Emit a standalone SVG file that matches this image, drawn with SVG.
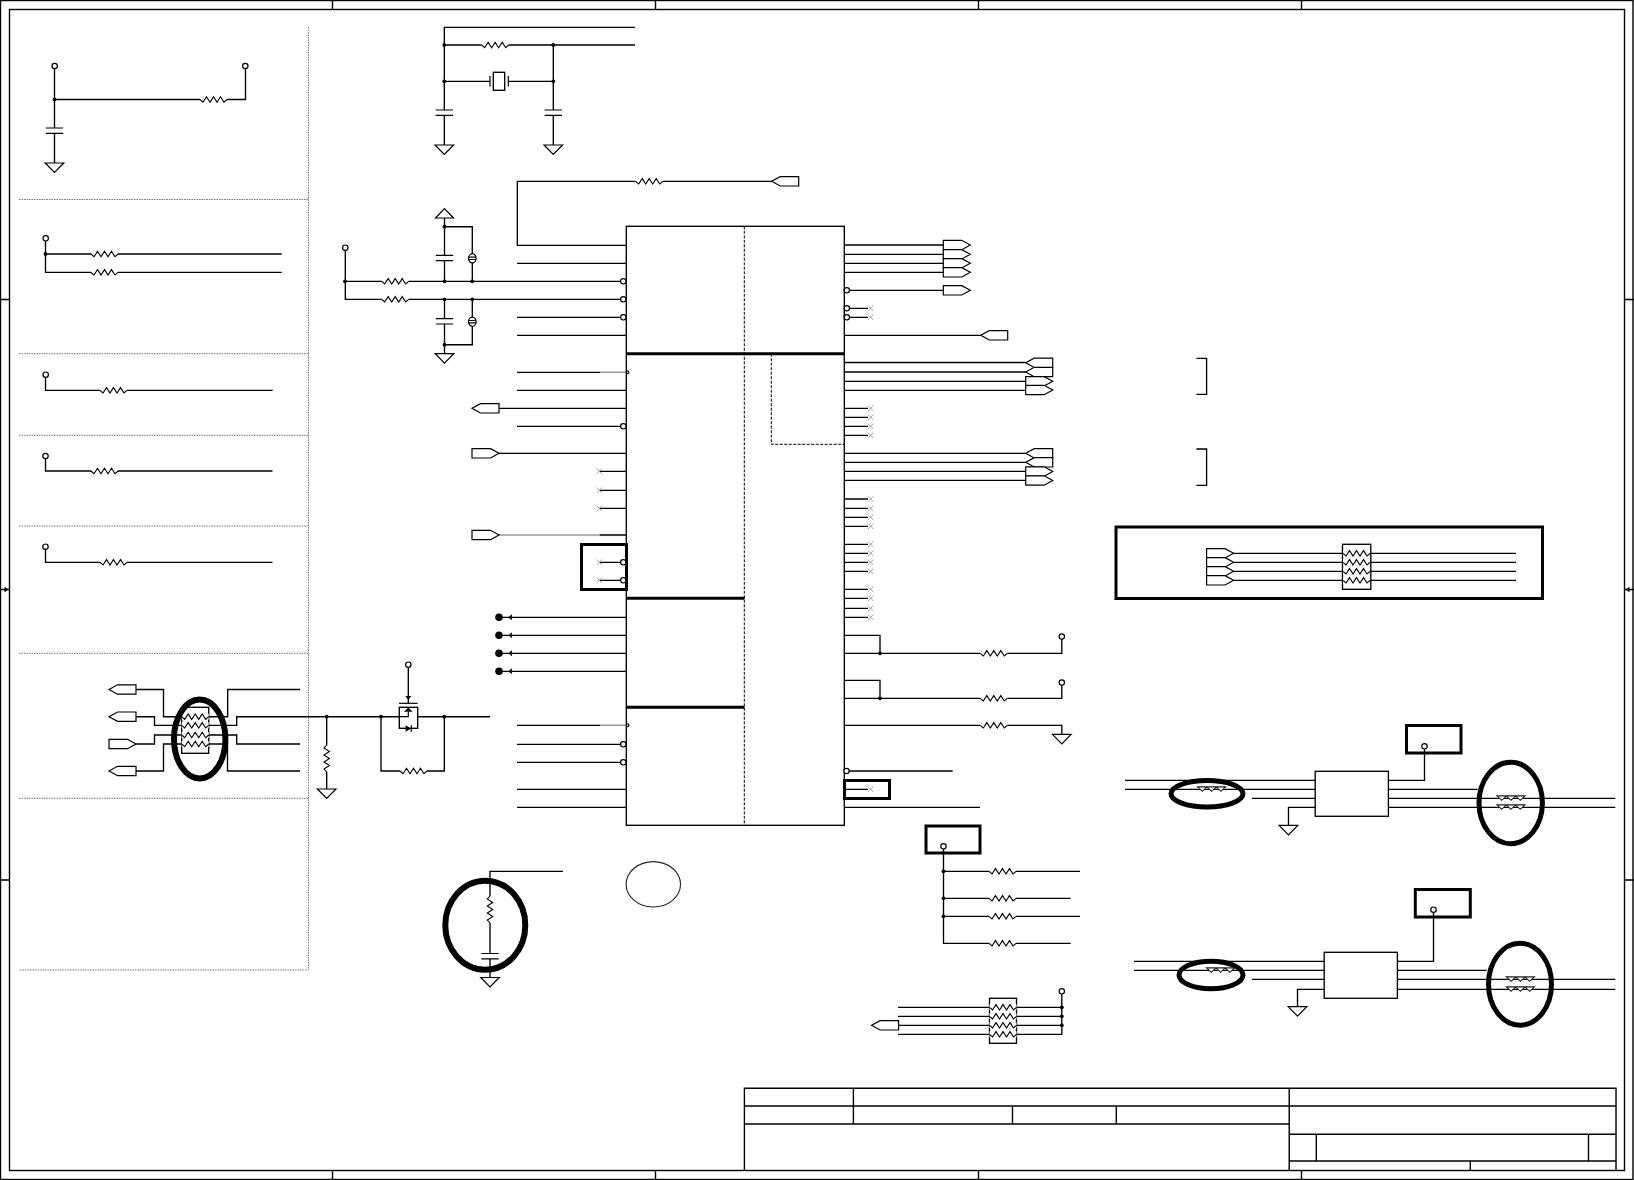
<svg xmlns="http://www.w3.org/2000/svg" width="1634" height="1180" viewBox="0 0 1634 1180">
<style>
.w{fill:none;stroke:#000;stroke-width:1.2}
.b{fill:#fff;stroke:#000;stroke-width:1.2}
.z{fill:none;stroke:#000;stroke-width:1.1}
#connectors .w,#brackets .w{stroke-width:1.35}
rect.b{stroke-width:1.35}
.t{fill:none;stroke:#000;stroke-width:3}
.e{fill:none;stroke:#000;stroke-width:5}
.e6{fill:none;stroke:#000;stroke-width:6}
.d{fill:none;stroke:#777;stroke-width:1;stroke-dasharray:1.5 1}
.k{fill:none;stroke:#000;stroke-width:1;stroke-dasharray:3 1.5}
.g{fill:none;stroke:#999;stroke-width:1.5}
.n{fill:none;stroke:#999;stroke-width:.9}
.f{fill:#000;stroke:none}
.tb{fill:none;stroke:#000;stroke-width:1.4}
</style>
<defs>
<g id="res"><rect x="0" y="-3" width="27" height="6" fill="#fff"/><path class="z" d="M0 0l3 2.7 3.5-5.4 3.5 5.4 3.5-5.4 3.5 5.4 3.5-5.4 3.5 5.4 3-2.7"/></g>
<g id="resf"><path fill="#fff" stroke="#222" stroke-width="1.1" d="M0-2.4H28L23.3 2 18.6-2.4 14 2 9.3-2.4 4.7 2Z"/></g>
<g id="gnd"><path class="b" d="M-9.3 0H9.3L0 9.5Z"/></g>
<g id="cap"><path class="w" d="M-8.7 0H8.7M-8.7 5.3H8.7"/></g>
<g id="pl"><path class="b" d="M0 0 8.5-4.7H27V4.7H8.5Z"/></g>
<g id="pr"><path class="b" d="M0-4.7H18.5L27 0 18.5 4.7H0Z"/></g>
<circle id="o" class="b" r="2.7"/>
<circle id="dot" class="f" r="1.9"/>
<path id="x" class="n" d="M-2.8-2.8 2.8 2.8M-2.8 2.8 2.8-2.8"/>
<g id="esd"><ellipse class="b" rx="3.8" ry="4.6"/><path class="w" d="M-3.8-1.2H3.8M-3.8 1.2H3.8"/></g>
<g id="aro"><path class="f" d="M0 0 3.6-3V3Z"/></g>
</defs>

<g id="frame">
<rect class="tb" x="0.5" y="0.5" width="1632.5" height="1179"/>
<rect class="tb" x="9.5" y="9.5" width="1615" height="1161"/>
<path class="tb" d="M332.5 0V9.5M655.5 0V9.5M978.5 0V9.5M1301.5 0V9.5M332.5 1170.5V1180M655.5 1170.5V1180M978.5 1170.5V1180M1301.5 1170.5V1180M0 299.5H9.5M0 880H9.5M1624.5 299.5H1634M1624.5 880H1634M0 589.5H9.5M1624.5 589.5H1634"/>
<path class="f" d="M8.5 589.5 4.5 586.7V592.3ZM1625.5 589.5 1629.5 586.7V592.3Z"/>
</g>
<g id="panel-dividers">
<path class="d" d="M308.5 27V970H19M19 199.5H308.5M19 353.7H308.5M19 435.3H308.5M19 526H308.5M19 653.3H308.5M19 798.3H308.5"/>
</g>

<g id="connectors">
<path class="w" d="M54.5 69V163M54.5 99.5H245.5V69"/>
<path class="w" d="M45.5 241V272.3H281.7M45.5 254H281.7"/>
<path class="w" d="M45.5 377.5V390.3H272.7"/>
<path class="w" d="M45.5 459V471H272.5"/>
<path class="w" d="M45.5 549.5V562.3H272.5"/>
<path class="w" d="M136 689.5H163.5V716.7H227.7V689.5H300M136 716.7H154.5V725.3H236.7V716.7H490M127 744H154.5V735H236.7V744H300M136 771H163.5V744H227.5V771H300"/>
<path class="w" d="M326.7 716.7V789M381 716.7V771H444.3V716.7M408.3 667.4V703.3"/>
<path class="w" d="M635 27.3H444.3V145M444.3 45H635M553.3 45V145M444.3 81.3H490M508.3 81.3H553.3"/>
<path class="w" d="M771.7 181.3H517.3V245.3H626.3"/>
<path class="w" d="M345.3 250.4V299.3H620.6M345.3 281.3H620.6"/>
<path class="w" d="M444.5 218V281.3M444.5 299.3V353.7M444.5 226.7H472.3V281.3M472.3 299.3V344.7H444.5"/>
<path class="w" d="M517 263.3H626.3M517 317.3H620.6M517 335.3H626.3M517 372.3H600M517 390.3H626.3M499.3 408.3H626.3M517 426.3H620.6M499 453.3H626.3M599.5 471.3H626.3M599.5 490.3H626.3M599.5 508.3H626.3M599.5 535H626.3M599.5 562.3H620.6M599.5 580.3H620.6"/>
<path class="g" d="M600 372.3H625M499 535H599.5M600 725.3H625"/>
<path class="w" d="M512 617.3H626.3M512 635.3H626.3M512 653.3H626.3M512 671.3H626.3M499 617.3H509M499 635.3H509M499 653.3H509M499 671.3H509"/>
<path class="w" d="M517 725.3H600M517 744.3H620.6M517 762.3H620.6M517 789.3H626.3M517 807.3H626.3"/>
<path class="w" d="M844.3 245H943.3M844.3 254.3H943.3M844.3 263.3H943.3M844.3 272.3H943.3M849.4 290.3H943.3M849.4 308.3H868M849.4 317.3H868M844.3 335.3H980.7"/>
<path class="w" d="M844.3 362.5H1025.7M844.3 372H1025.7M844.3 381.3H1025.7M844.3 390.3H1025.7M844.3 453.3H1025.7M844.3 462.3H1025.7M844.3 471.3H1025.7M844.3 480.3H1025.7"/>
<path class="w" d="M844.3 408.3H868M844.3 417.3H868M844.3 426.3H868M844.3 435.3H868M844.3 499H868M844.3 508.3H868M844.3 517.3H868M844.3 526.3H868M844.3 544.3H868M844.3 553.3H868M844.3 562.3H868M844.3 571.3H868M844.3 589.3H868M844.3 598.3H868M844.3 608.3H868M844.3 617.3H868"/>
<path class="w" d="M844.3 635.3H880V653.3M844.3 653.3H1061.8V639.3M844.3 680.3H880V698.3M844.3 698.3H1061.8V685.3M844.3 725.3H1061.8V734.3M849 771H952.7M844.3 789.3H868M844.3 807.3H980"/>
<path class="w" d="M943.5 849V943.3H1070.6M943.5 871.3H1080M943.5 898.3H1070.6M943.5 916.3H1080"/>
<path class="w" d="M1061.8 994V1034.3H898M898 1007.3H1061.8M898 1016.3H1061.8M898 1025.3H1061.8"/>
<path class="w" d="M563 871.3H490V977.5"/>
<path class="w" d="M1233.9 553.3H1516M1233.9 562.3H1516M1233.9 571.3H1516M1233.9 580.3H1516"/>
<path class="w" d="M1125 780.3H1315.2M1125 789.3H1315.2M1252 798.3H1315.2M1288.5 825.3V807.3H1315.2M1388.4 780.3H1424.5V749M1388.4 789.3H1477.6M1388.4 798.3H1615.3M1388.4 807.3H1615.3"/>
<path class="w" d="M1134 961.3H1324.2M1134 970.3H1324.2M1252 979.3H1324.2M1297.5 1006.7V989.3H1324.2M1397.4 961.3H1433.5V912.4M1397.4 970.3H1486.7M1397.4 979.3H1615.3M1397.4 989.3H1615.3"/>
</g>

<g id="ic-main">
<rect class="b" x="626.3" y="226.3" width="218" height="599"/>
<path class="k" d="M744.3 226.3V825.3M771.3 353.7V444.3H844.3"/>
<path class="t" d="M626 353.7H844.3M626 598.3H744.5M626 707.3H744.5"/>
<use href="#o" x="623.3" y="281.3"/><use href="#o" x="623.3" y="299.3"/><use href="#o" x="623.3" y="317.3"/><use href="#o" x="623.3" y="426.3"/><use href="#o" x="623.3" y="562.3"/><use href="#o" x="623.3" y="580.3"/><use href="#o" x="623.3" y="744.3"/><use href="#o" x="623.3" y="762.3"/>
<circle class="b" cx="627.5" cy="372.3" r="1.4"/><circle class="b" cx="627.5" cy="725.3" r="1.4"/>
<use href="#o" x="846.8" y="290.3"/><use href="#o" x="846.8" y="308.3"/><use href="#o" x="846.8" y="317.3"/><use href="#o" x="846.5" y="771"/>
</g>
<g id="nc-marks">
<use href="#x" x="599.3" y="471.3"/><use href="#x" x="599.3" y="490.3"/><use href="#x" x="599.3" y="508.3"/><use href="#x" x="599.3" y="562.3"/><use href="#x" x="599.3" y="580.3"/>
<use href="#x" x="870.7" y="308.3"/><use href="#x" x="870.7" y="317.3"/><use href="#x" x="870.7" y="408.3"/><use href="#x" x="870.7" y="417.3"/><use href="#x" x="870.7" y="426.3"/><use href="#x" x="870.7" y="435.3"/><use href="#x" x="870.7" y="499"/><use href="#x" x="870.7" y="508.3"/><use href="#x" x="870.7" y="517.3"/><use href="#x" x="870.7" y="526.3"/><use href="#x" x="870.7" y="544.3"/><use href="#x" x="870.7" y="553.3"/><use href="#x" x="870.7" y="562.3"/><use href="#x" x="870.7" y="571.3"/><use href="#x" x="870.7" y="589.3"/><use href="#x" x="870.7" y="598.3"/><use href="#x" x="870.7" y="608.3"/><use href="#x" x="870.7" y="617.3"/><use href="#x" x="870.7" y="789.3"/>
</g>
<g id="test-points">
<circle class="f" cx="499" cy="617.3" r="3.8"/><circle class="f" cx="499" cy="635.3" r="3.8"/><circle class="f" cx="499" cy="653.3" r="3.8"/><circle class="f" cx="499" cy="671.3" r="3.8"/>
<use href="#aro" x="508.3" y="617.3"/><use href="#aro" x="508.3" y="635.3"/><use href="#aro" x="508.3" y="653.3"/><use href="#aro" x="508.3" y="671.3"/>
</g>

<g id="panel-1">
<use href="#o" x="54.7" y="66"/><use href="#o" x="245.3" y="66"/><use href="#dot" x="54.5" y="99.5"/>
<rect x="46" y="128" width="17" height="5.3" fill="#fff"/><use href="#cap" x="54.5" y="128"/><use href="#gnd" x="54.5" y="163"/><use href="#res" x="200" y="99.5"/>
</g>
<g id="panel-2">
<use href="#o" x="45.7" y="238.3"/><use href="#dot" x="45.5" y="254"/><use href="#res" x="91" y="254"/><use href="#res" x="91" y="272.3"/>
</g>
<g id="panel-3"><use href="#o" x="45.7" y="374.7"/><use href="#res" x="100" y="390.3"/></g>
<g id="panel-4"><use href="#o" x="45.5" y="456"/><use href="#res" x="91" y="471"/></g>
<g id="panel-5"><use href="#o" x="45.5" y="546.7"/><use href="#res" x="100" y="562.3"/></g>

<g id="cluster-left">
<use href="#pl" x="109" y="689.5"/><use href="#pl" x="109" y="716.7"/><use href="#pr" x="109" y="744"/><use href="#pl" x="109" y="771"/>
<rect class="b" x="181.7" y="707.3" width="27" height="46"/>
<use href="#res" x="181.7" y="716.7"/><use href="#res" x="181.7" y="725.3"/><use href="#res" x="181.7" y="735"/><use href="#res" x="181.7" y="744"/>
<ellipse class="e6" cx="199.7" cy="739" rx="25.7" ry="39.5"/>
</g>
<g id="pulldown">
<use href="#dot" x="326.7" y="716.7"/><use href="#res" transform="translate(326.7 745) rotate(90)"/><use href="#gnd" x="326.7" y="789"/>
</g>
<g id="mosfet">
<use href="#o" x="408.3" y="664.7"/><use href="#dot" x="381" y="716.7"/><use href="#dot" x="444.3" y="716.7"/>
<path class="f" d="M405.3 696H411.3L408.3 700Z"/>
<path class="w" d="M399 703.3H417.7"/>
<rect class="b" x="399.3" y="707.3" width="18.4" height="21"/>
<path class="w" d="M399.3 716.7H408.3V711.5"/>
<path class="f" d="M404 711.7H412.6L408.3 707.5Z"/>
<path class="f" d="M405.6 725.3V731.7L411 728.5Z"/><path class="w" d="M411.3 725.3V731.7"/>
<use href="#res" x="400" y="771"/>
</g>
<g id="crystal">
<use href="#dot" x="444.3" y="45"/><use href="#dot" x="444.3" y="81.3"/><use href="#dot" x="553.3" y="45"/><use href="#dot" x="553.3" y="81.3"/>
<use href="#res" x="481.7" y="45"/>
<path class="w" d="M490 76V86.5M508.3 76V86.5"/><rect class="b" x="493.3" y="72.3" width="11.4" height="18"/>
<rect x="436" y="110" width="17" height="5.3" fill="#fff"/><use href="#cap" x="444.3" y="110"/><rect x="545" y="110" width="17" height="5.3" fill="#fff"/><use href="#cap" x="553.3" y="110"/>
<use href="#gnd" x="444.3" y="145"/><use href="#gnd" x="553.3" y="145"/>
</g>
<g id="feedback"><use href="#res" x="635.7" y="181.3"/><use href="#pl" x="771.7" y="181.3"/></g>
<g id="input-filter">
<use href="#o" x="345.3" y="247.7"/><use href="#dot" x="345" y="281.3"/><use href="#res" x="381.7" y="281.3"/><use href="#res" x="381.7" y="299.3"/>
<use href="#dot" x="444.5" y="226.7"/><use href="#dot" x="444.5" y="281.3"/><use href="#dot" x="444.5" y="299.3"/><use href="#dot" x="444.5" y="344.7"/><use href="#dot" x="472.3" y="281.3"/><use href="#dot" x="472.3" y="299.3"/>
<path class="b" d="M435.5 218H453.5L444.5 208.7Z"/>
<rect x="436" y="255.3" width="17" height="5.3" fill="#fff"/><use href="#cap" x="444.5" y="255.3"/><rect x="436" y="318.7" width="17" height="5.3" fill="#fff"/><use href="#cap" x="444.5" y="318.7"/>
<use href="#esd" x="472.3" y="258.3"/><use href="#esd" x="472.3" y="321.7"/><use href="#gnd" x="444.5" y="353.7"/>
</g>
<g id="left-ports"><use href="#pl" x="472" y="408.3"/><use href="#pr" x="472" y="453.3"/><use href="#pr" x="472" y="535"/></g>
<g id="nc-box-left"><rect class="t" x="581.5" y="544.5" width="45" height="45"/></g>
<g id="right-ports">
<use href="#pr" x="943.3" y="245"/><use href="#pr" x="943.3" y="254.3"/><use href="#pr" x="943.3" y="263.3"/><use href="#pr" x="943.3" y="272.3"/><use href="#pr" x="943.3" y="290.3"/><use href="#pl" x="980.7" y="335.3"/>
<use href="#pl" x="1025.7" y="362.8"/><use href="#pl" x="1025.7" y="372"/><use href="#pr" x="1025.7" y="381.3"/><use href="#pr" x="1025.7" y="390"/>
<use href="#pl" x="1025.7" y="453.3"/><use href="#pl" x="1025.7" y="462.3"/><use href="#pr" x="1025.7" y="471.5"/><use href="#pr" x="1025.7" y="480.5"/>
</g>
<g id="brackets"><path class="w" d="M1196.4 358.3H1206.6V394.3H1196.4M1196.4 449H1206.6V485.3H1196.4"/></g>
<g id="resistors-right">
<use href="#dot" x="880" y="653.3"/><use href="#dot" x="880" y="698.3"/><use href="#res" x="980.3" y="653.3"/><use href="#res" x="980.3" y="698.3"/><use href="#res" x="980.3" y="725.3"/>
<use href="#o" x="1061.8" y="636.6"/><use href="#o" x="1061.8" y="682.6"/><use href="#gnd" x="1061.8" y="734.3"/>
</g>
<g id="nc-box-right"><rect class="t" x="844.5" y="780.5" width="45" height="18"/></g>
<g id="strap-group">
<rect class="t" x="926" y="826" width="54" height="27"/><use href="#o" x="943.5" y="846.3"/>
<use href="#dot" x="943.5" y="871.3"/><use href="#dot" x="943.5" y="898.3"/><use href="#dot" x="943.5" y="916.3"/>
<use href="#res" x="989" y="871.3"/><use href="#res" x="989" y="898.3"/><use href="#res" x="989" y="916.3"/><use href="#res" x="989" y="943.3"/>
</g>
<g id="blank-circle"><ellipse fill="none" stroke="#222" stroke-width="1.1" cx="653.3" cy="884.3" rx="27.2" ry="22.7"/></g>
<g id="rc-group">
<use href="#res" transform="translate(490 896) rotate(90)"/><rect x="481" y="953.5" width="18" height="5.3" fill="#fff"/><use href="#cap" x="490" y="953.5"/><use href="#gnd" x="490" y="977.5"/>
<ellipse class="e6" cx="485.3" cy="925.2" rx="40" ry="44.5"/>
</g>
<g id="res-pack-bottom">
<use href="#o" x="1061.8" y="991.3"/><use href="#dot" x="1061.8" y="1007.3"/><use href="#dot" x="1061.8" y="1016.3"/><use href="#dot" x="1061.8" y="1025.3"/>
<rect class="b" x="989.5" y="998.3" width="27" height="45"/>
<use href="#res" x="989.5" y="1007.3"/><use href="#res" x="989.5" y="1016.3"/><use href="#res" x="989.5" y="1025.3"/><use href="#res" x="989.5" y="1034.3"/>
<use href="#pl" x="871.6" y="1025.3"/>
</g>
<g id="highlight-block">
<rect class="t" x="1116" y="527" width="426.5" height="71.5"/>
<use href="#pr" x="1206.6" y="553.3"/><use href="#pr" x="1206.6" y="562.3"/><use href="#pr" x="1206.6" y="571.3"/><use href="#pr" x="1206.6" y="580.3"/>
<rect class="b" x="1342.5" y="544.3" width="28.3" height="45"/>
<use href="#res" x="1343" y="553.3"/><use href="#res" x="1343" y="562.3"/><use href="#res" x="1343" y="571.3"/><use href="#res" x="1343" y="580.3"/>
</g>
<g id="block-1">
<rect class="b" x="1315.2" y="771.3" width="73.2" height="45"/>
<rect class="t" x="1406.5" y="725.5" width="54.5" height="27.5"/><use href="#o" x="1424.5" y="746.3"/>
<use href="#resf" x="1197.6" y="789.3"/><use href="#gnd" x="1288.5" y="825.3"/>
<use href="#resf" x="1497" y="798.3"/><use href="#resf" x="1497" y="807.3"/>
<ellipse class="e" cx="1207" cy="793.8" rx="36" ry="13.2"/><ellipse class="e" cx="1510.7" cy="803" rx="31.7" ry="40.7"/>
</g>
<g id="block-2">
<rect class="b" x="1324.2" y="952.3" width="73.2" height="46"/>
<rect class="t" x="1415.3" y="889.5" width="55" height="27.5"/><use href="#o" x="1433.5" y="909.7"/>
<use href="#resf" x="1206.6" y="970.3"/><use href="#gnd" x="1297.5" y="1006.7"/>
<use href="#resf" x="1506.4" y="979.3"/><use href="#resf" x="1506.4" y="989.3"/>
<ellipse class="e" cx="1211" cy="975" rx="32" ry="13.7"/><ellipse class="e" cx="1520" cy="984.2" rx="31.5" ry="41"/>
</g>
<g id="title-block">
<path class="tb" d="M744.4 1170.5V1088.3H1616V1170.5M744.4 1106H1616M744.4 1124H1289.2M853.4 1088.3V1124M1289.2 1088.3V1170.5M1012.5 1106V1124M1116.3 1106V1124M1289.2 1134.3H1616M1289.2 1161H1616M1316.3 1134.3V1161M1588.5 1134.3V1161M1470.3 1161V1170.5"/>
</g>
</svg>
